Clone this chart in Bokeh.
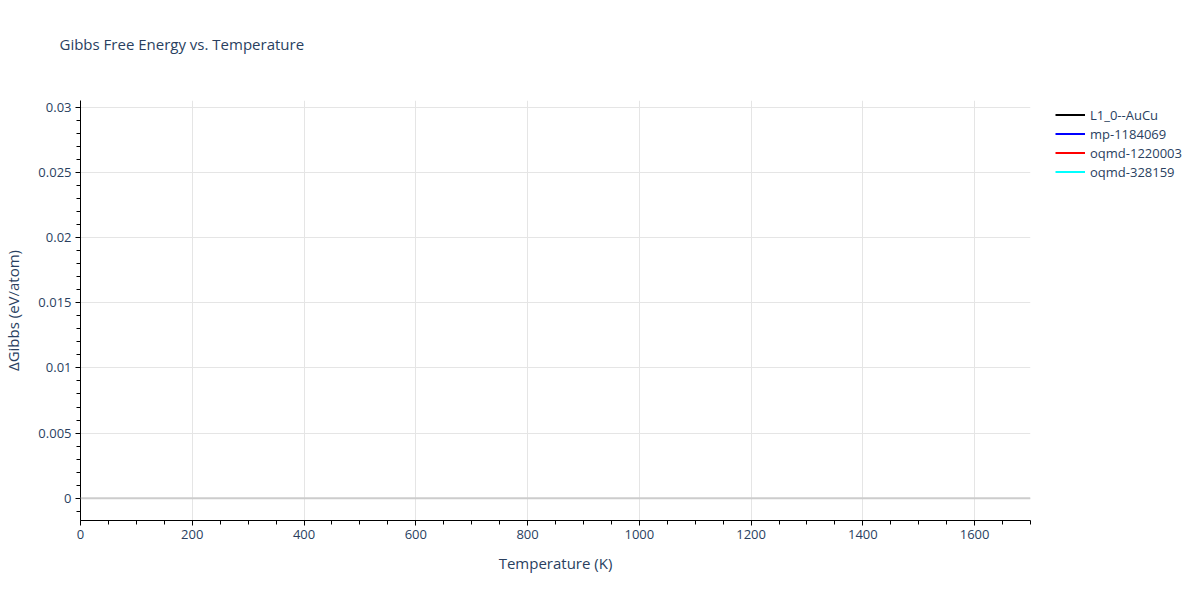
from bokeh.plotting import figure
from bokeh.models import Range1d, FixedTicker, Legend, LegendItem, Span, Title
from bokeh.embed import file_html
from bokeh.resources import INLINE

nan = float("nan")

# Data (no curve values are visible in the reference's plotted range)
temperature = [nan]
l10_aucu = [nan]
mp_1184069 = [nan]
oqmd_1220003 = [nan]
oqmd_328159 = [nan]

series_names = ["L1_0--AuCu", "mp-1184069", "oqmd-1220003", "oqmd-328159"]
series_values = [l10_aucu, mp_1184069, oqmd_1220003, oqmd_328159]
series_colors = ["black", "blue", "red", "cyan"]

x_ticks = [0, 200, 400, 600, 800, 1000, 1200, 1400, 1600]
y_ticks = [0, 0.005, 0.01, 0.015, 0.02, 0.025, 0.03]
y_tick_labels = ["0", "0.005", "0.01", "0.015", "0.02", "0.025", "0.03"]

FONT = "Open Sans"
TXT = "#2a3f5f"

p = figure(frame_width=950, frame_height=420, output_backend="svg", toolbar_location=None,
           x_range=Range1d(0, 1700), y_range=Range1d(-0.0017, 0.0305),
           min_border_left=80, min_border_right=162, min_border_top=100,
           min_border_bottom=72, background_fill_color="white",
           border_fill_color="white")
p.outline_line_color = None

# blank spacer title next to the frame, then the real title above it
spacer = Title(text=" ", text_font=FONT, text_font_size="15px", standoff=25)
p.add_layout(spacer, "above")
t = Title(text="Gibbs Free Energy vs. Temperature", text_font=FONT,
          text_font_size="15px", text_font_style="normal", text_color=TXT,
          align="left", offset=-21, standoff=0)
p.add_layout(t, "above")

renderers = []
for name, vals, col in zip(series_names, series_values, series_colors):
    r = p.line(temperature, vals, line_color=col, line_width=2)
    renderers.append((name, r))

legend = Legend(items=[LegendItem(label=n, renderers=[r]) for n, r in renderers],
                location=(25, 339), border_line_alpha=0, background_fill_alpha=0,
                label_text_font=FONT, label_text_font_size="13px", label_text_color=TXT,
                glyph_width=30, glyph_height=19, label_height=19, spacing=0,
                padding=0, margin=0, label_standoff=5)
p.add_layout(legend, "right")

zero = Span(location=0, dimension="width", line_color="#cccccc", line_width=2)
p.add_layout(zero)

# minor tick positions
x_minor = [v for v in range(0, 1701, 50)]
y_minor = [i * 0.001 for i in range(-1, 31)]

p.xaxis.ticker = FixedTicker(ticks=x_ticks, minor_ticks=x_minor)
p.yaxis.ticker = FixedTicker(ticks=y_ticks, minor_ticks=y_minor)
p.yaxis.major_label_overrides = {v: s for v, s in zip(y_ticks, y_tick_labels)}

for ax in (p.xaxis[0], p.yaxis[0]):
    ax.axis_line_color = "black"
    ax.major_tick_line_color = "black"
    ax.minor_tick_line_color = "black"
    ax.major_tick_out = 5
    ax.major_tick_in = 0
    ax.minor_tick_out = 4
    ax.minor_tick_in = 0
    ax.major_label_text_font = FONT
    ax.major_label_text_font_size = "13px"
    ax.major_label_text_color = TXT
    ax.axis_label_text_font = FONT
    ax.axis_label_text_font_size = "15px"
    ax.axis_label_text_font_style = "normal"
    ax.axis_label_text_color = TXT

p.xaxis.axis_label = "Temperature (K)"
p.yaxis.axis_label = "ΔGibbs (eV/atom)"
p.xaxis.axis_label_standoff = 11
p.yaxis.axis_label_standoff = 12
p.xaxis.major_label_standoff = 4
p.yaxis.major_label_standoff = 4

p.xgrid.grid_line_color = "#e5e5e5"
p.ygrid.grid_line_color = "#e5e5e5"
p.xgrid.grid_line_width = 1
p.ygrid.grid_line_width = 1

open("out.html", "w").write(file_html(p, INLINE))
